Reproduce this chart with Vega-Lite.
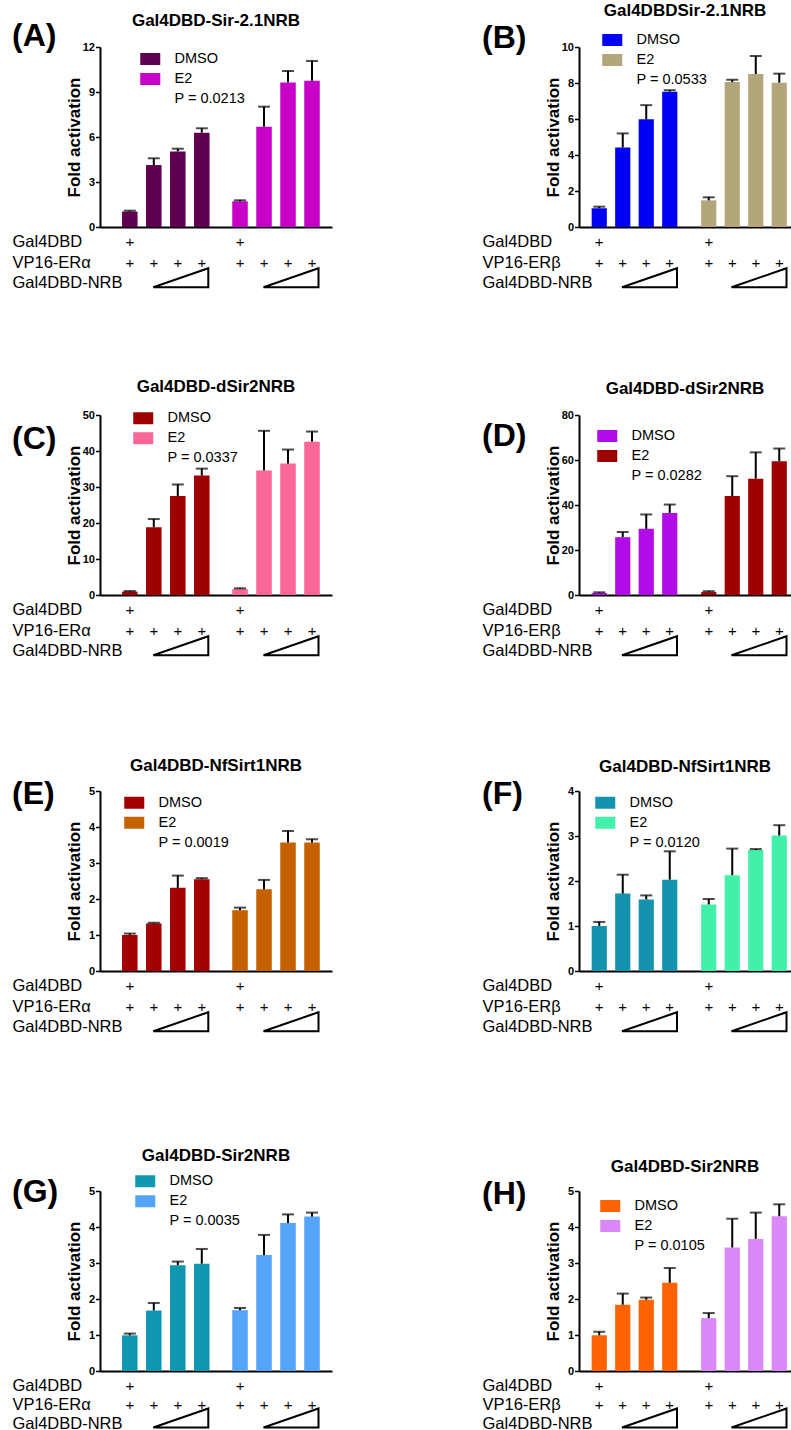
{
  "$schema": "https://vega.github.io/schema/vega-lite/v6.json",
  "background": "white",
  "padding": {"left": 12, "top": 2, "right": 0, "bottom": 0},
  "columns": 2,
  "spacing": {"row": 82, "column": 150},
  "resolve": {"scale": {"x": "independent", "y": "independent", "xOffset": "independent", "color": "independent"}, "legend": {"color": "independent"}, "axis": {"x": "independent", "y": "independent"}},
  "datasets": {
    "bars": [
      {"p":"A","s":"DMSO","g":"g1","b":1,"v":1.03,"hi":1.09},{"p":"A","s":"DMSO","g":"g1","b":2,"v":4.13,"hi":4.58},{"p":"A","s":"DMSO","g":"g1","b":3,"v":5.04,"hi":5.22},{"p":"A","s":"DMSO","g":"g1","b":4,"v":6.29,"hi":6.58},
      {"p":"A","s":"E2","g":"g2","b":1,"v":1.71,"hi":1.78},{"p":"A","s":"E2","g":"g2","b":2,"v":6.68,"hi":8.02},{"p":"A","s":"E2","g":"g2","b":3,"v":9.64,"hi":10.4},{"p":"A","s":"E2","g":"g2","b":4,"v":9.75,"hi":11.07},
      {"p":"B","s":"DMSO","g":"g1","b":1,"v":1.04,"hi":1.13},{"p":"B","s":"DMSO","g":"g1","b":2,"v":4.42,"hi":5.2},{"p":"B","s":"DMSO","g":"g1","b":3,"v":5.98,"hi":6.77},{"p":"B","s":"DMSO","g":"g1","b":4,"v":7.52,"hi":7.6},
      {"p":"B","s":"E2","g":"g2","b":1,"v":1.48,"hi":1.65},{"p":"B","s":"E2","g":"g2","b":2,"v":8.05,"hi":8.18},{"p":"B","s":"E2","g":"g2","b":3,"v":8.5,"hi":9.5},{"p":"B","s":"E2","g":"g2","b":4,"v":8.02,"hi":8.52},
      {"p":"C","s":"DMSO","g":"g1","b":1,"v":0.95,"hi":1.1},{"p":"C","s":"DMSO","g":"g1","b":2,"v":18.8,"hi":21.1},{"p":"C","s":"DMSO","g":"g1","b":3,"v":27.5,"hi":30.7},{"p":"C","s":"DMSO","g":"g1","b":4,"v":33.2,"hi":35.1},
      {"p":"C","s":"E2","g":"g2","b":1,"v":1.65,"hi":1.86},{"p":"C","s":"E2","g":"g2","b":2,"v":34.6,"hi":45.6},{"p":"C","s":"E2","g":"g2","b":3,"v":36.5,"hi":40.4},{"p":"C","s":"E2","g":"g2","b":4,"v":42.6,"hi":45.4},
      {"p":"D","s":"DMSO","g":"g1","b":1,"v":0.9,"hi":1.2},{"p":"D","s":"DMSO","g":"g1","b":2,"v":25.7,"hi":28.0},{"p":"D","s":"DMSO","g":"g1","b":3,"v":29.4,"hi":35.8},{"p":"D","s":"DMSO","g":"g1","b":4,"v":36.5,"hi":40.2},
      {"p":"D","s":"E2","g":"g2","b":1,"v":1.3,"hi":1.7},{"p":"D","s":"E2","g":"g2","b":2,"v":44.0,"hi":52.8},{"p":"D","s":"E2","g":"g2","b":3,"v":51.7,"hi":63.4},{"p":"D","s":"E2","g":"g2","b":4,"v":59.5,"hi":65.1},
      {"p":"E","s":"DMSO","g":"g1","b":1,"v":1.0,"hi":1.04},{"p":"E","s":"DMSO","g":"g1","b":2,"v":1.32,"hi":1.34},{"p":"E","s":"DMSO","g":"g1","b":3,"v":2.31,"hi":2.65},{"p":"E","s":"DMSO","g":"g1","b":4,"v":2.55,"hi":2.58},
      {"p":"E","s":"E2","g":"g2","b":1,"v":1.69,"hi":1.76},{"p":"E","s":"E2","g":"g2","b":2,"v":2.27,"hi":2.53},{"p":"E","s":"E2","g":"g2","b":3,"v":3.57,"hi":3.89},{"p":"E","s":"E2","g":"g2","b":4,"v":3.57,"hi":3.66},
      {"p":"F","s":"DMSO","g":"g1","b":1,"v":1.0,"hi":1.09},{"p":"F","s":"DMSO","g":"g1","b":2,"v":1.72,"hi":2.14},{"p":"F","s":"DMSO","g":"g1","b":3,"v":1.59,"hi":1.68},{"p":"F","s":"DMSO","g":"g1","b":4,"v":2.03,"hi":2.66},
      {"p":"F","s":"E2","g":"g2","b":1,"v":1.48,"hi":1.6},{"p":"F","s":"E2","g":"g2","b":2,"v":2.13,"hi":2.72},{"p":"F","s":"E2","g":"g2","b":3,"v":2.69,"hi":2.71},{"p":"F","s":"E2","g":"g2","b":4,"v":3.01,"hi":3.24},
      {"p":"G","s":"DMSO","g":"g1","b":1,"v":0.99,"hi":1.04},{"p":"G","s":"DMSO","g":"g1","b":2,"v":1.68,"hi":1.89},{"p":"G","s":"DMSO","g":"g1","b":3,"v":2.94,"hi":3.04},{"p":"G","s":"DMSO","g":"g1","b":4,"v":2.98,"hi":3.39},
      {"p":"G","s":"E2","g":"g2","b":1,"v":1.69,"hi":1.75},{"p":"G","s":"E2","g":"g2","b":2,"v":3.22,"hi":3.78},{"p":"G","s":"E2","g":"g2","b":3,"v":4.11,"hi":4.35},{"p":"G","s":"E2","g":"g2","b":4,"v":4.29,"hi":4.4},
      {"p":"H","s":"DMSO","g":"g1","b":1,"v":0.99,"hi":1.09},{"p":"H","s":"DMSO","g":"g1","b":2,"v":1.84,"hi":2.15},{"p":"H","s":"DMSO","g":"g1","b":3,"v":1.98,"hi":2.04},{"p":"H","s":"DMSO","g":"g1","b":4,"v":2.45,"hi":2.86},
      {"p":"H","s":"E2","g":"g2","b":1,"v":1.47,"hi":1.61},{"p":"H","s":"E2","g":"g2","b":2,"v":3.43,"hi":4.23},{"p":"H","s":"E2","g":"g2","b":3,"v":3.67,"hi":4.4},{"p":"H","s":"E2","g":"g2","b":4,"v":4.3,"hi":4.63}
    ],
    "annA": [
      {"g":"g1","b":1,"r":"Gal4DBD","t":"+"},{"g":"g2","b":1,"r":"Gal4DBD","t":"+"},
      {"g":"g1","b":1,"r":"VP16-ERα","t":"+"},{"g":"g1","b":2,"r":"VP16-ERα","t":"+"},{"g":"g1","b":3,"r":"VP16-ERα","t":"+"},{"g":"g1","b":4,"r":"VP16-ERα","t":"+"},
      {"g":"g2","b":1,"r":"VP16-ERα","t":"+"},{"g":"g2","b":2,"r":"VP16-ERα","t":"+"},{"g":"g2","b":3,"r":"VP16-ERα","t":"+"},{"g":"g2","b":4,"r":"VP16-ERα","t":"+"},
      {"g":"g1","r":"Gal4DBD-NRB","t":"tri"},{"g":"g2","r":"Gal4DBD-NRB","t":"tri"}
    ],
    "annB": [
      {"g":"g1","b":1,"r":"Gal4DBD","t":"+"},{"g":"g2","b":1,"r":"Gal4DBD","t":"+"},
      {"g":"g1","b":1,"r":"VP16-ERβ","t":"+"},{"g":"g1","b":2,"r":"VP16-ERβ","t":"+"},{"g":"g1","b":3,"r":"VP16-ERβ","t":"+"},{"g":"g1","b":4,"r":"VP16-ERβ","t":"+"},
      {"g":"g2","b":1,"r":"VP16-ERβ","t":"+"},{"g":"g2","b":2,"r":"VP16-ERβ","t":"+"},{"g":"g2","b":3,"r":"VP16-ERβ","t":"+"},{"g":"g2","b":4,"r":"VP16-ERβ","t":"+"},
      {"g":"g1","r":"Gal4DBD-NRB","t":"tri"},{"g":"g2","r":"Gal4DBD-NRB","t":"tri"}
    ]
  },
  "concat": [
    {
      "title": {"text": "(A)", "anchor": "start", "frame": "bounds", "fontSize": 32, "offset": 0, "dy": 41},
      "spacing": 0,
      "resolve": {"scale": {"x": "independent", "y": "independent", "xOffset": "independent"}},
      "vconcat": [
        {
          "width": 232, "height": 180,
          "title": {"text": "Gal4DBD-Sir-2.1NRB", "fontSize": 17, "offset": 11},
          "data": {"name": "bars"},
          "transform": [{"filter": "datum.p === 'A'"}],
          "encoding": {
            "x": {"field": "g", "type": "nominal", "scale": {"type": "band", "domain": ["g1","g2"], "paddingInner": 0.129, "paddingOuter": 0.117, "align": 0.69}, "axis": {"title": null}},
            "xOffset": {"field": "b", "type": "nominal", "scale": {"type": "band", "domain": [1,2,3,4], "paddingInner": 0.354, "paddingOuter": 0.177}}
          },
          "layer": [
            {"mark": {"type": "bar"}, "encoding": {
              "y": {"field": "v", "type": "quantitative", "title": "Fold activation", "scale": {"domain": [0,12], "nice": false}, "axis": {"values": [0,3,6,9,12], "tickCount": 12, "format": "d", "labelOverlap": false}},
              "color": {"field": "s", "type": "nominal", "scale": {"domain": ["DMSO","E2","P = 0.0213"], "range": ["#5E004F","#C600C6","rgba(0,0,0,0)"]},
                "legend": {"orient": "none", "legendX": 43, "legendY": 4.75, "title": null, "symbolType": "M-1.43,-0.857H1.43V0.857H-1.43Z"}}}},
            {"mark": {"type": "rule", "color": "black", "strokeWidth": 2}, "encoding": {"y": {"field": "v", "type": "quantitative", "title": "Fold activation"}, "y2": {"field": "hi"}}},
            {"mark": {"type": "tick", "color": "black", "thickness": 2, "size": 12}, "encoding": {"y": {"field": "hi", "type": "quantitative", "title": "Fold activation"}}}
          ]
        },
        {
          "width": 232, "height": 63.5,
          "data": {"name": "annA"},
          "encoding": {
            "x": {"field": "g", "type": "nominal", "scale": {"type": "band", "domain": ["g1","g2"], "paddingInner": 0.129, "paddingOuter": 0.117, "align": 0.69}, "axis": null},
            "y": {"field": "r", "type": "nominal", "scale": {"type": "band", "domain": ["Gal4DBD","VP16-ERα","Gal4DBD-NRB"], "paddingInner": 0, "paddingOuter": 0.049, "align": 0},
              "axis": {"title": null, "labelPadding": 88, "domain": false, "ticks": false, "tickSize": 0, "labelAlign": "left", "labelFontSize": 16.5, "labelBaseline": "middle", "labelLimit": 300, "labelFont": "Liberation Sans", "labelFontWeight": "normal", "labelColor": "black"}}
          },
          "layer": [
            {"transform": [{"filter": "datum.t === '+'"}], "mark": {"type": "text", "fontSize": 15, "baseline": "middle", "color": "black"},
             "encoding": {"xOffset": {"field": "b", "type": "nominal", "scale": {"type": "band", "domain": [1,2,3,4], "paddingInner": 0.354, "paddingOuter": 0.177}}, "text": {"field": "t"}}},
            {"transform": [{"filter": "datum.t === 'tri'"}], "mark": {"type": "point", "shape": "M-0.294,0.094L1,-0.353L1,0.094Z", "size": 7225, "filled": false, "stroke": "black", "strokeWidth": 2, "opacity": 1}}
          ]
        }
      ]
    },
    {
      "title": {"text": "(B)", "anchor": "start", "frame": "bounds", "fontSize": 32, "offset": 0, "dy": 53},
      "spacing": 0,
      "resolve": {"scale": {"x": "independent", "y": "independent", "xOffset": "independent"}},
      "vconcat": [
        {
          "width": 212, "height": 180,
          "title": {"text": "Gal4DBDSir-2.1NRB", "fontSize": 17, "offset": 21},
          "data": {"name": "bars"},
          "transform": [{"filter": "datum.p === 'B'"}],
          "encoding": {
            "x": {"field": "g", "type": "nominal", "scale": {"type": "band", "domain": ["g1","g2"], "paddingInner": 0.1416, "paddingOuter": 0.0388, "align": 1}, "axis": {"title": null}},
            "xOffset": {"field": "b", "type": "nominal", "scale": {"type": "band", "domain": [1,2,3,4], "paddingInner": 0.354, "paddingOuter": 0.177}}
          },
          "layer": [
            {"mark": {"type": "bar"}, "encoding": {
              "y": {"field": "v", "type": "quantitative", "title": "Fold activation", "scale": {"domain": [0,10], "nice": false}, "axis": {"values": [0,2,4,6,8,10], "tickCount": 12, "format": "d", "labelOverlap": false}},
              "color": {"field": "s", "type": "nominal", "scale": {"domain": ["DMSO","E2","P = 0.0533"], "range": ["#0000F5","#B3A67A","rgba(0,0,0,0)"]},
                "legend": {"orient": "none", "legendX": 26, "legendY": -14.25, "title": null, "symbolType": "M-1.43,-0.857H1.43V0.857H-1.43Z"}}}},
            {"mark": {"type": "rule", "color": "black", "strokeWidth": 2}, "encoding": {"y": {"field": "v", "type": "quantitative", "title": "Fold activation"}, "y2": {"field": "hi"}}},
            {"mark": {"type": "tick", "color": "black", "thickness": 2, "size": 12}, "encoding": {"y": {"field": "hi", "type": "quantitative", "title": "Fold activation"}}}
          ]
        },
        {
          "width": 212, "height": 63.5,
          "data": {"name": "annB"},
          "encoding": {
            "x": {"field": "g", "type": "nominal", "scale": {"type": "band", "domain": ["g1","g2"], "paddingInner": 0.1416, "paddingOuter": 0.0388, "align": 1}, "axis": null},
            "y": {"field": "r", "type": "nominal", "scale": {"type": "band", "domain": ["Gal4DBD","VP16-ERβ","Gal4DBD-NRB"], "paddingInner": 0, "paddingOuter": 0.049, "align": 0},
              "axis": {"title": null, "labelPadding": 97, "domain": false, "ticks": false, "tickSize": 0, "labelAlign": "left", "labelFontSize": 16.5, "labelBaseline": "middle", "labelLimit": 300, "labelFont": "Liberation Sans", "labelFontWeight": "normal", "labelColor": "black"}}
          },
          "layer": [
            {"transform": [{"filter": "datum.t === '+'"}], "mark": {"type": "text", "fontSize": 15, "baseline": "middle", "color": "black"},
             "encoding": {"xOffset": {"field": "b", "type": "nominal", "scale": {"type": "band", "domain": [1,2,3,4], "paddingInner": 0.354, "paddingOuter": 0.177}}, "text": {"field": "t"}}},
            {"transform": [{"filter": "datum.t === 'tri'"}], "mark": {"type": "point", "shape": "M-0.294,0.094L1,-0.353L1,0.094Z", "size": 7225, "filled": false, "stroke": "black", "strokeWidth": 2, "opacity": 1}}
          ]
        }
      ]
    },
    {
      "title": {"text": "(C)", "anchor": "start", "frame": "bounds", "fontSize": 32, "offset": 0, "dy": 78},
      "spacing": 0,
      "resolve": {"scale": {"x": "independent", "y": "independent", "xOffset": "independent"}},
      "vconcat": [
        {
          "width": 232, "height": 180,
          "title": {"text": "Gal4DBD-dSir2NRB", "fontSize": 17, "offset": 13},
          "data": {"name": "bars"},
          "transform": [{"filter": "datum.p === 'C'"}],
          "encoding": {
            "x": {"field": "g", "type": "nominal", "scale": {"type": "band", "domain": ["g1","g2"], "paddingInner": 0.129, "paddingOuter": 0.117, "align": 0.69}, "axis": {"title": null}},
            "xOffset": {"field": "b", "type": "nominal", "scale": {"type": "band", "domain": [1,2,3,4], "paddingInner": 0.354, "paddingOuter": 0.177}}
          },
          "layer": [
            {"mark": {"type": "bar"}, "encoding": {
              "y": {"field": "v", "type": "quantitative", "title": "Fold activation", "scale": {"domain": [0,50], "nice": false}, "axis": {"values": [0,10,20,30,40,50], "tickCount": 12, "format": "d", "labelOverlap": false}},
              "color": {"field": "s", "type": "nominal", "scale": {"domain": ["DMSO","E2","P = 0.0337"], "range": ["#9E0000","#FA6699","rgba(0,0,0,0)"]},
                "legend": {"orient": "none", "legendX": 36, "legendY": -4, "title": null, "symbolType": "M-1.43,-0.857H1.43V0.857H-1.43Z"}}}},
            {"mark": {"type": "rule", "color": "black", "strokeWidth": 2}, "encoding": {"y": {"field": "v", "type": "quantitative", "title": "Fold activation"}, "y2": {"field": "hi"}}},
            {"mark": {"type": "tick", "color": "black", "thickness": 2, "size": 12}, "encoding": {"y": {"field": "hi", "type": "quantitative", "title": "Fold activation"}}}
          ]
        },
        {
          "width": 232, "height": 75,
          "data": {"name": "annA"},
          "encoding": {
            "x": {"field": "g", "type": "nominal", "scale": {"type": "band", "domain": ["g1","g2"], "paddingInner": 0.129, "paddingOuter": 0.117, "align": 0.69}, "axis": null},
            "y": {"field": "r", "type": "nominal", "scale": {"type": "band", "domain": ["Gal4DBD","VP16-ERα","Gal4DBD-NRB"], "paddingInner": 0, "paddingOuter": 0.329, "align": 0},
              "axis": {"title": null, "labelPadding": 88, "domain": false, "ticks": false, "tickSize": 0, "labelAlign": "left", "labelFontSize": 16.5, "labelBaseline": "middle", "labelLimit": 300, "labelFont": "Liberation Sans", "labelFontWeight": "normal", "labelColor": "black"}}
          },
          "layer": [
            {"transform": [{"filter": "datum.t === '+'"}], "mark": {"type": "text", "fontSize": 15, "baseline": "middle", "color": "black"},
             "encoding": {"xOffset": {"field": "b", "type": "nominal", "scale": {"type": "band", "domain": [1,2,3,4], "paddingInner": 0.354, "paddingOuter": 0.177}}, "text": {"field": "t"}}},
            {"transform": [{"filter": "datum.t === 'tri'"}], "mark": {"type": "point", "shape": "M-0.294,0.094L1,-0.353L1,0.094Z", "size": 7225, "filled": false, "stroke": "black", "strokeWidth": 2, "opacity": 1}}
          ]
        }
      ]
    },
    {
      "title": {"text": "(D)", "anchor": "start", "frame": "bounds", "fontSize": 32, "offset": 0, "dy": 73},
      "spacing": 0,
      "resolve": {"scale": {"x": "independent", "y": "independent", "xOffset": "independent"}},
      "vconcat": [
        {
          "width": 212, "height": 180,
          "title": {"text": "Gal4DBD-dSir2NRB", "fontSize": 17, "offset": 11},
          "data": {"name": "bars"},
          "transform": [{"filter": "datum.p === 'D'"}],
          "encoding": {
            "x": {"field": "g", "type": "nominal", "scale": {"type": "band", "domain": ["g1","g2"], "paddingInner": 0.1416, "paddingOuter": 0.0388, "align": 1}, "axis": {"title": null}},
            "xOffset": {"field": "b", "type": "nominal", "scale": {"type": "band", "domain": [1,2,3,4], "paddingInner": 0.354, "paddingOuter": 0.177}}
          },
          "layer": [
            {"mark": {"type": "bar"}, "encoding": {
              "y": {"field": "v", "type": "quantitative", "title": "Fold activation", "scale": {"domain": [0,80], "nice": false}, "axis": {"values": [0,20,40,60,80], "tickCount": 12, "format": "d", "labelOverlap": false}},
              "color": {"field": "s", "type": "nominal", "scale": {"domain": ["DMSO","E2","P = 0.0282"], "range": ["#B00CE8","#9E0000","rgba(0,0,0,0)"]},
                "legend": {"orient": "none", "legendX": 21, "legendY": 13.75, "title": null, "symbolType": "M-1.43,-0.857H1.43V0.857H-1.43Z"}}}},
            {"mark": {"type": "rule", "color": "black", "strokeWidth": 2}, "encoding": {"y": {"field": "v", "type": "quantitative", "title": "Fold activation"}, "y2": {"field": "hi"}}},
            {"mark": {"type": "tick", "color": "black", "thickness": 2, "size": 12}, "encoding": {"y": {"field": "hi", "type": "quantitative", "title": "Fold activation"}}}
          ]
        },
        {
          "width": 212, "height": 75,
          "data": {"name": "annB"},
          "encoding": {
            "x": {"field": "g", "type": "nominal", "scale": {"type": "band", "domain": ["g1","g2"], "paddingInner": 0.1416, "paddingOuter": 0.0388, "align": 1}, "axis": null},
            "y": {"field": "r", "type": "nominal", "scale": {"type": "band", "domain": ["Gal4DBD","VP16-ERβ","Gal4DBD-NRB"], "paddingInner": 0, "paddingOuter": 0.329, "align": 0},
              "axis": {"title": null, "labelPadding": 97, "domain": false, "ticks": false, "tickSize": 0, "labelAlign": "left", "labelFontSize": 16.5, "labelBaseline": "middle", "labelLimit": 300, "labelFont": "Liberation Sans", "labelFontWeight": "normal", "labelColor": "black"}}
          },
          "layer": [
            {"transform": [{"filter": "datum.t === '+'"}], "mark": {"type": "text", "fontSize": 15, "baseline": "middle", "color": "black"},
             "encoding": {"xOffset": {"field": "b", "type": "nominal", "scale": {"type": "band", "domain": [1,2,3,4], "paddingInner": 0.354, "paddingOuter": 0.177}}, "text": {"field": "t"}}},
            {"transform": [{"filter": "datum.t === 'tri'"}], "mark": {"type": "point", "shape": "M-0.294,0.094L1,-0.353L1,0.094Z", "size": 7225, "filled": false, "stroke": "black", "strokeWidth": 2, "opacity": 1}}
          ]
        }
      ]
    },
    {
      "title": {"text": "(E)", "anchor": "start", "frame": "bounds", "fontSize": 32, "offset": 0, "dy": 53.5},
      "spacing": -3,
      "resolve": {"scale": {"x": "independent", "y": "independent", "xOffset": "independent"}},
      "vconcat": [
        {
          "width": 232, "height": 180,
          "title": {"text": "Gal4DBD-NfSirt1NRB", "fontSize": 17, "offset": 10},
          "data": {"name": "bars"},
          "transform": [{"filter": "datum.p === 'E'"}],
          "encoding": {
            "x": {"field": "g", "type": "nominal", "scale": {"type": "band", "domain": ["g1","g2"], "paddingInner": 0.129, "paddingOuter": 0.117, "align": 0.69}, "axis": {"title": null}},
            "xOffset": {"field": "b", "type": "nominal", "scale": {"type": "band", "domain": [1,2,3,4], "paddingInner": 0.354, "paddingOuter": 0.177}}
          },
          "layer": [
            {"mark": {"type": "bar"}, "encoding": {
              "y": {"field": "v", "type": "quantitative", "title": "Fold activation", "scale": {"domain": [0,5], "nice": false}, "axis": {"values": [0,1,2,3,4,5], "tickCount": 12, "format": "d", "labelOverlap": false}},
              "color": {"field": "s", "type": "nominal", "scale": {"domain": ["DMSO","E2","P = 0.0019"], "range": ["#A30000","#C46200","rgba(0,0,0,0)"]},
                "legend": {"orient": "none", "legendX": 27, "legendY": 4.5, "title": null, "symbolType": "M-1.43,-0.857H1.43V0.857H-1.43Z"}}}},
            {"mark": {"type": "rule", "color": "black", "strokeWidth": 2}, "encoding": {"y": {"field": "v", "type": "quantitative", "title": "Fold activation"}, "y2": {"field": "hi"}}},
            {"mark": {"type": "tick", "color": "black", "thickness": 2, "size": 12}, "encoding": {"y": {"field": "hi", "type": "quantitative", "title": "Fold activation"}}}
          ]
        },
        {
          "width": 232, "height": 89,
          "data": {"name": "annA"},
          "encoding": {
            "x": {"field": "g", "type": "nominal", "scale": {"type": "band", "domain": ["g1","g2"], "paddingInner": 0.129, "paddingOuter": 0.117, "align": 0.69}, "axis": null},
            "y": {"field": "r", "type": "nominal", "scale": {"type": "band", "domain": ["Gal4DBD","VP16-ERα","Gal4DBD-NRB"], "paddingInner": 0, "paddingOuter": 0.671, "align": 0},
              "axis": {"title": null, "labelPadding": 88, "domain": false, "ticks": false, "tickSize": 0, "labelAlign": "left", "labelFontSize": 16.5, "labelBaseline": "middle", "labelLimit": 300, "labelFont": "Liberation Sans", "labelFontWeight": "normal", "labelColor": "black"}}
          },
          "layer": [
            {"transform": [{"filter": "datum.t === '+'"}], "mark": {"type": "text", "fontSize": 15, "baseline": "middle", "color": "black"},
             "encoding": {"xOffset": {"field": "b", "type": "nominal", "scale": {"type": "band", "domain": [1,2,3,4], "paddingInner": 0.354, "paddingOuter": 0.177}}, "text": {"field": "t"}}},
            {"transform": [{"filter": "datum.t === 'tri'"}], "mark": {"type": "point", "shape": "M-0.294,0.094L1,-0.353L1,0.094Z", "size": 7225, "filled": false, "stroke": "black", "strokeWidth": 2, "opacity": 1}}
          ]
        }
      ]
    },
    {
      "title": {"text": "(F)", "anchor": "start", "frame": "bounds", "fontSize": 32, "offset": 0, "dy": 53},
      "spacing": -3,
      "resolve": {"scale": {"x": "independent", "y": "independent", "xOffset": "independent"}},
      "vconcat": [
        {
          "width": 212, "height": 180,
          "title": {"text": "Gal4DBD-NfSirt1NRB", "fontSize": 17, "offset": 9},
          "data": {"name": "bars"},
          "transform": [{"filter": "datum.p === 'F'"}],
          "encoding": {
            "x": {"field": "g", "type": "nominal", "scale": {"type": "band", "domain": ["g1","g2"], "paddingInner": 0.1416, "paddingOuter": 0.0388, "align": 1}, "axis": {"title": null}},
            "xOffset": {"field": "b", "type": "nominal", "scale": {"type": "band", "domain": [1,2,3,4], "paddingInner": 0.354, "paddingOuter": 0.177}}
          },
          "layer": [
            {"mark": {"type": "bar"}, "encoding": {
              "y": {"field": "v", "type": "quantitative", "title": "Fold activation", "scale": {"domain": [0,4], "nice": false}, "axis": {"values": [0,1,2,3,4], "tickCount": 12, "format": "d", "labelOverlap": false}},
              "color": {"field": "s", "type": "nominal", "scale": {"domain": ["DMSO","E2","P = 0.0120"], "range": ["#1493AE","#42F0AA","rgba(0,0,0,0)"]},
                "legend": {"orient": "none", "legendX": 19, "legendY": 4.5, "title": null, "symbolType": "M-1.43,-0.857H1.43V0.857H-1.43Z"}}}},
            {"mark": {"type": "rule", "color": "black", "strokeWidth": 2}, "encoding": {"y": {"field": "v", "type": "quantitative", "title": "Fold activation"}, "y2": {"field": "hi"}}},
            {"mark": {"type": "tick", "color": "black", "thickness": 2, "size": 12}, "encoding": {"y": {"field": "hi", "type": "quantitative", "title": "Fold activation"}}}
          ]
        },
        {
          "width": 212, "height": 89,
          "data": {"name": "annB"},
          "encoding": {
            "x": {"field": "g", "type": "nominal", "scale": {"type": "band", "domain": ["g1","g2"], "paddingInner": 0.1416, "paddingOuter": 0.0388, "align": 1}, "axis": null},
            "y": {"field": "r", "type": "nominal", "scale": {"type": "band", "domain": ["Gal4DBD","VP16-ERβ","Gal4DBD-NRB"], "paddingInner": 0, "paddingOuter": 0.671, "align": 0},
              "axis": {"title": null, "labelPadding": 97, "domain": false, "ticks": false, "tickSize": 0, "labelAlign": "left", "labelFontSize": 16.5, "labelBaseline": "middle", "labelLimit": 300, "labelFont": "Liberation Sans", "labelFontWeight": "normal", "labelColor": "black"}}
          },
          "layer": [
            {"transform": [{"filter": "datum.t === '+'"}], "mark": {"type": "text", "fontSize": 15, "baseline": "middle", "color": "black"},
             "encoding": {"xOffset": {"field": "b", "type": "nominal", "scale": {"type": "band", "domain": [1,2,3,4], "paddingInner": 0.354, "paddingOuter": 0.177}}, "text": {"field": "t"}}},
            {"transform": [{"filter": "datum.t === 'tri'"}], "mark": {"type": "point", "shape": "M-0.294,0.094L1,-0.353L1,0.094Z", "size": 7225, "filled": false, "stroke": "black", "strokeWidth": 2, "opacity": 1}}
          ]
        }
      ]
    },
    {
      "title": {"text": "(G)", "anchor": "start", "frame": "bounds", "fontSize": 32, "offset": 0, "dy": 62},
      "spacing": -9,
      "resolve": {"scale": {"x": "independent", "y": "independent", "xOffset": "independent"}},
      "vconcat": [
        {
          "width": 232, "height": 180,
          "title": {"text": "Gal4DBD-Sir2NRB", "fontSize": 17, "offset": 20},
          "data": {"name": "bars"},
          "transform": [{"filter": "datum.p === 'G'"}],
          "encoding": {
            "x": {"field": "g", "type": "nominal", "scale": {"type": "band", "domain": ["g1","g2"], "paddingInner": 0.129, "paddingOuter": 0.117, "align": 0.69}, "axis": {"title": null}},
            "xOffset": {"field": "b", "type": "nominal", "scale": {"type": "band", "domain": [1,2,3,4], "paddingInner": 0.354, "paddingOuter": 0.177}}
          },
          "layer": [
            {"mark": {"type": "bar"}, "encoding": {
              "y": {"field": "v", "type": "quantitative", "title": "Fold activation", "scale": {"domain": [0,5], "nice": false}, "axis": {"values": [0,1,2,3,4,5], "tickCount": 12, "format": "d", "labelOverlap": false}},
              "color": {"field": "s", "type": "nominal", "scale": {"domain": ["DMSO","E2","P = 0.0035"], "range": ["#0E97AE","#54A4FA","rgba(0,0,0,0)"]},
                "legend": {"orient": "none", "legendX": 38, "legendY": -17, "title": null, "symbolType": "M-1.43,-0.857H1.43V0.857H-1.43Z"}}}},
            {"mark": {"type": "rule", "color": "black", "strokeWidth": 2}, "encoding": {"y": {"field": "v", "type": "quantitative", "title": "Fold activation"}, "y2": {"field": "hi"}}},
            {"mark": {"type": "tick", "color": "black", "thickness": 2, "size": 12}, "encoding": {"y": {"field": "hi", "type": "quantitative", "title": "Fold activation"}}}
          ]
        },
        {
          "width": 232, "height": 57,
          "data": {"name": "annA"},
          "encoding": {
            "x": {"field": "g", "type": "nominal", "scale": {"type": "band", "domain": ["g1","g2"], "paddingInner": 0.129, "paddingOuter": 0.117, "align": 0.69}, "axis": null},
            "y": {"field": "r", "type": "nominal", "scale": {"type": "band", "domain": ["Gal4DBD","VP16-ERα","Gal4DBD-NRB"], "paddingInner": 0, "paddingOuter": 0, "align": 0},
              "axis": {"title": null, "labelPadding": 88, "domain": false, "ticks": false, "tickSize": 0, "labelAlign": "left", "labelFontSize": 16.5, "labelBaseline": "middle", "labelLimit": 300, "labelFont": "Liberation Sans", "labelFontWeight": "normal", "labelColor": "black"}}
          },
          "layer": [
            {"transform": [{"filter": "datum.t === '+'"}], "mark": {"type": "text", "fontSize": 15, "baseline": "middle", "color": "black"},
             "encoding": {"xOffset": {"field": "b", "type": "nominal", "scale": {"type": "band", "domain": [1,2,3,4], "paddingInner": 0.354, "paddingOuter": 0.177}}, "text": {"field": "t"}}},
            {"transform": [{"filter": "datum.t === 'tri'"}], "mark": {"type": "point", "shape": "M-0.294,0.094L1,-0.353L1,0.094Z", "size": 7225, "filled": false, "stroke": "black", "strokeWidth": 2, "opacity": 1}}
          ]
        }
      ]
    },
    {
      "title": {"text": "(H)", "anchor": "start", "frame": "bounds", "fontSize": 32, "offset": 0, "dy": 53},
      "spacing": -9,
      "resolve": {"scale": {"x": "independent", "y": "independent", "xOffset": "independent"}},
      "vconcat": [
        {
          "width": 212, "height": 180,
          "title": {"text": "Gal4DBD-Sir2NRB", "fontSize": 17, "offset": 9},
          "data": {"name": "bars"},
          "transform": [{"filter": "datum.p === 'H'"}],
          "encoding": {
            "x": {"field": "g", "type": "nominal", "scale": {"type": "band", "domain": ["g1","g2"], "paddingInner": 0.1416, "paddingOuter": 0.0388, "align": 1}, "axis": {"title": null}},
            "xOffset": {"field": "b", "type": "nominal", "scale": {"type": "band", "domain": [1,2,3,4], "paddingInner": 0.354, "paddingOuter": 0.177}}
          },
          "layer": [
            {"mark": {"type": "bar"}, "encoding": {
              "y": {"field": "v", "type": "quantitative", "title": "Fold activation", "scale": {"domain": [0,5], "nice": false}, "axis": {"values": [0,1,2,3,4,5], "tickCount": 12, "format": "d", "labelOverlap": false}},
              "color": {"field": "s", "type": "nominal", "scale": {"domain": ["DMSO","E2","P = 0.0105"], "range": ["#FF6200","#DA88F7","rgba(0,0,0,0)"]},
                "legend": {"orient": "none", "legendX": 24, "legendY": 7.75, "title": null, "symbolType": "M-1.43,-0.857H1.43V0.857H-1.43Z"}}}},
            {"mark": {"type": "rule", "color": "black", "strokeWidth": 2}, "encoding": {"y": {"field": "v", "type": "quantitative", "title": "Fold activation"}, "y2": {"field": "hi"}}},
            {"mark": {"type": "tick", "color": "black", "thickness": 2, "size": 12}, "encoding": {"y": {"field": "hi", "type": "quantitative", "title": "Fold activation"}}}
          ]
        },
        {
          "width": 212, "height": 57,
          "data": {"name": "annB"},
          "encoding": {
            "x": {"field": "g", "type": "nominal", "scale": {"type": "band", "domain": ["g1","g2"], "paddingInner": 0.1416, "paddingOuter": 0.0388, "align": 1}, "axis": null},
            "y": {"field": "r", "type": "nominal", "scale": {"type": "band", "domain": ["Gal4DBD","VP16-ERβ","Gal4DBD-NRB"], "paddingInner": 0, "paddingOuter": 0, "align": 0},
              "axis": {"title": null, "labelPadding": 97, "domain": false, "ticks": false, "tickSize": 0, "labelAlign": "left", "labelFontSize": 16.5, "labelBaseline": "middle", "labelLimit": 300, "labelFont": "Liberation Sans", "labelFontWeight": "normal", "labelColor": "black"}}
          },
          "layer": [
            {"transform": [{"filter": "datum.t === '+'"}], "mark": {"type": "text", "fontSize": 15, "baseline": "middle", "color": "black"},
             "encoding": {"xOffset": {"field": "b", "type": "nominal", "scale": {"type": "band", "domain": [1,2,3,4], "paddingInner": 0.354, "paddingOuter": 0.177}}, "text": {"field": "t"}}},
            {"transform": [{"filter": "datum.t === 'tri'"}], "mark": {"type": "point", "shape": "M-0.294,0.094L1,-0.353L1,0.094Z", "size": 7225, "filled": false, "stroke": "black", "strokeWidth": 2, "opacity": 1}}
          ]
        }
      ]
    }
  ],
  "config": {
    "view": {"stroke": null},
    "font": "Liberation Sans",
    "title": {"color": "black", "font": "Liberation Sans", "fontWeight": "bold"},
    "axis": {"grid": false, "domainColor": "black", "tickColor": "black", "labelColor": "black", "titleColor": "black"},
    "axisYQuantitative": {"titleFontSize": 17, "titleFontWeight": "bold", "titleFont": "Liberation Sans", "titlePadding": 3.5, "minExtent": 13, "maxExtent": 13, "labelFont": "Liberation Sans Narrow, Liberation Sans", "labelFontSize": 11, "labelFontWeight": "bold", "labelPadding": 1, "tickSize": 4.5, "tickWidth": 1.5, "domainWidth": 2, "labelOverlap": false, "tickCount": 12},
    "axisXBand": {"labels": false, "ticks": false, "domainWidth": 2},
    "legend": {"symbolSize": 196, "symbolStrokeWidth": 0, "labelFontSize": 14.5, "labelOffset": 17, "rowPadding": 5, "padding": 0, "labelColor": "black", "labelFont": "Liberation Sans"}
  }
}
